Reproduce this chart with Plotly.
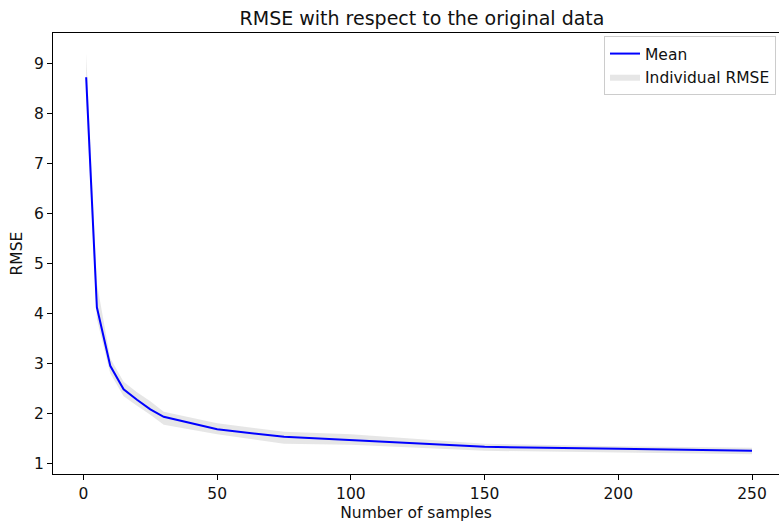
import plotly.graph_objects as go

# Number of samples used for each evaluation
n_samples = [1, 5, 10, 15, 20, 25, 30, 50, 75, 100, 150, 200, 250]
# Mean RMSE across runs
rmse_mean = [8.72, 4.12, 2.95, 2.48, 2.27, 2.08, 1.93, 1.68, 1.53, 1.46, 1.33, 1.29, 1.25]
# Spread of the individual RMSE values
rmse_low = [8.30, 3.88, 2.80, 2.34, 2.15, 1.97, 1.77, 1.58, 1.39, 1.37, 1.25, 1.21, 1.18]
rmse_high = [9.20, 4.60, 3.10, 2.63, 2.42, 2.24, 2.03, 1.80, 1.63, 1.58, 1.39, 1.34, 1.31]

FONT = "DejaVu Sans"
W, H = 779, 524
L, T, B = 53, 33, 50
TICK_SIZE = 15.5

fig = go.Figure()

fig.add_trace(go.Scatter(
    x=n_samples, y=rmse_low, mode="lines",
    line=dict(color="rgba(128,128,128,0.0)", width=0),
    showlegend=False, hoverinfo="skip",
))
fig.add_trace(go.Scatter(
    x=n_samples, y=rmse_high, mode="lines",
    line=dict(color="rgba(128,128,128,0.0)", width=0),
    fill="tonexty", fillcolor="rgba(128,128,128,0.2)",
    name="Individual RMSE", legendrank=2,
))
# mean line drawn above the band
fig.add_trace(go.Scatter(
    x=n_samples, y=rmse_mean, mode="lines",
    line=dict(color="#0000ff", width=2),
    name="Mean", legendrank=1,
))

# x scale: 2.674 px per sample, first tick at px 83.5
px_per_unit = (752 - 83.5) / 250
x_left = -(83.5 - L) / px_per_unit
x_right = x_left + (W - L) / px_per_unit

axis_common = dict(
    showgrid=False, zeroline=False,
    showline=True, linecolor="black", linewidth=1,
    ticks="outside", ticklen=5, tickwidth=1, tickcolor="black",
    tickfont=dict(family=FONT, size=TICK_SIZE, color="#111111"),
)

fig.update_xaxes(
    **axis_common,
    range=[x_left, x_right],
    tickvals=[0, 50, 100, 150, 200, 250],
    mirror=True,
    title=dict(text="Number of samples", font=dict(family=FONT, size=TICK_SIZE, color="#111111"), standoff=5),
)
fig.update_yaxes(
    **axis_common,
    range=[0.786, 9.606],
    tickvals=[1, 2, 3, 4, 5, 6, 7, 8, 9],
    mirror=False,
    title=dict(text="RMSE", font=dict(family=FONT, size=TICK_SIZE, color="#111111"), standoff=7),
)

fig.update_layout(
    width=W, height=H,
    margin=dict(l=L, r=0, t=T, b=B, pad=0),
    paper_bgcolor="white", plot_bgcolor="white",
    title=dict(
        text="RMSE with respect to the original data",
        font=dict(family=FONT, size=19, color="#111111"),
        x=422 / W, xanchor="center", xref="container",
        y=1 - 18 / H, yanchor="middle", yref="container",
    ),
    legend=dict(
        x=(604 - L) / (W - L), y=1 - 3 / (H - T - B),
        xanchor="left", yanchor="top",
        traceorder="normal",
        bordercolor="#cccccc", borderwidth=1, bgcolor="rgba(255,255,255,0.8)",
        font=dict(family=FONT, size=TICK_SIZE, color="#111111"),
        tracegroupgap=0, itemwidth=30,
    ),
    showlegend=True,
)

fig.write_html("out.html")
